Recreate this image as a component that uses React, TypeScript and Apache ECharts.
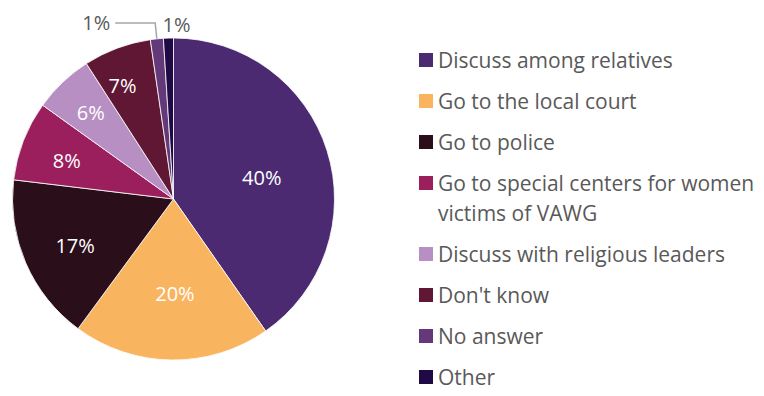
import React, { useEffect, useRef } from 'react';
import * as echarts from 'echarts';

// ---- data ----
const categories = [
  'Discuss among relatives',
  'Go to the local court',
  'Go to police',
  'Go to special centers for women victims of VAWG',
  'Discuss with religious leaders',
  "Don't know",
  'No answer',
  'Other',
];
const legendLines = [
  ['Discuss among relatives'],
  ['Go to the local court'],
  ['Go to police'],
  ['Go to special centers for women', 'victims of VAWG'],
  ['Discuss with religious leaders'],
  ["Don't know"],
  ['No answer'],
  ['Other'],
];
// slice shares (labels show them rounded)
const values = [40.3, 19.8, 16.8, 8.0, 6.0, 6.8, 1.3, 1.0];
const colors = ['#4B2A72', '#F9B45F', '#2A0E1A', '#9B1F5C', '#B78FC2', '#5F1733', '#64397A', '#200A45'];

// ---- label placement (polar: radius px, angle shift deg); null = library default outside ----
const LABEL_R: (number | null)[] = [91, 94.5, 109, 113.5, 120, 124.5, null, 175];
const LABEL_DA = [3.5, -1.6, -2.1, -1.4, 0, -3.7, 0, 2.8];

const CX = 173.5;
const CY = 199;
const R = 161;
const FONT = 'Open Sans';
const GREY = '#595959';

export default function App() {
  const ref = useRef<HTMLDivElement>(null);
  useEffect(() => {
    if (!ref.current) return;
    const chart = echarts.init(ref.current, undefined, { renderer: 'svg' });
    const total = values.reduce((a, b) => a + b, 0);

    const rich: Record<string, any> = {
      g: { width: 5 },
      ind: { width: 19 },
      t: { fontSize: 21, fontFamily: FONT, color: GREY, lineHeight: 30 },
    };
    colors.forEach((c, i) => {
      rich['m' + i] = { width: 14, height: 14, backgroundColor: c, lineHeight: 30 };
    });

    chart.setOption({
      animation: false,
      legend: {
        orient: 'vertical',
        left: 414,
        top: 45,
        padding: 0,
        itemGap: 11,
        itemWidth: 0,
        itemHeight: 14,
        icon: 'none',
        selectedMode: false,
        data: categories,
        formatter: (name: string) => {
          const i = categories.indexOf(name);
          const lines = legendLines[i];
          return lines
            .map((l, k) => (k === 0 ? `{m${i}|}{g|}{t|${l}}` : `{ind|}{t|${l}}`))
            .join('\n');
        },
        textStyle: { fontSize: 21, fontFamily: FONT, color: GREY, lineHeight: 30, rich },
      },
      series: [
        {
          type: 'pie',
          center: [CX, CY],
          radius: R,
          startAngle: 90,
          clockwise: true,
          avoidLabelOverlap: false,
          emphasis: { disabled: true },
          itemStyle: { borderColor: '#ffffff', borderWidth: 0.8 },
          label: {
            show: true,
            position: 'inside',
            color: '#ffffff',
            fontSize: 20,
            fontFamily: FONT,
            formatter: (p: any) => `${Math.round(p.value)}%`,
          },
          labelLine: { show: false },
          labelLayout: (p: any) => {
            const i = p.dataIndex;
            const r = LABEL_R[i];
            if (r == null) return {};
            let start = 0;
            for (let k = 0; k < i; k++) start += values[k];
            const ang = (((start + values[i] / 2) / total) * 360 + LABEL_DA[i]) * Math.PI / 180;
            return {
              x: CX + r * Math.sin(ang),
              y: CY - r * Math.cos(ang),
              align: 'center',
              verticalAlign: 'middle',
            };
          },
          data: categories.map((name, i) => {
            const item: any = { name, value: values[i], itemStyle: { color: colors[i] } };
            if (LABEL_R[i] == null) {
              item.label = { position: 'outside', color: GREY, padding: [0, 0, 14, 0] };
              item.labelLine = { show: true, length: 16, length2: 40, lineStyle: { color: '#A6A6A6', width: 1.5 } };
            } else if (LABEL_R[i]! > R) {
              item.label = { color: GREY };
            }
            return item;
          }),
        },
      ],
    });
    return () => chart.dispose();
  }, []);
  return <div ref={ref} style={{ position: 'absolute', left: 0, top: 0, width: 764, height: 396 }} />;
}
